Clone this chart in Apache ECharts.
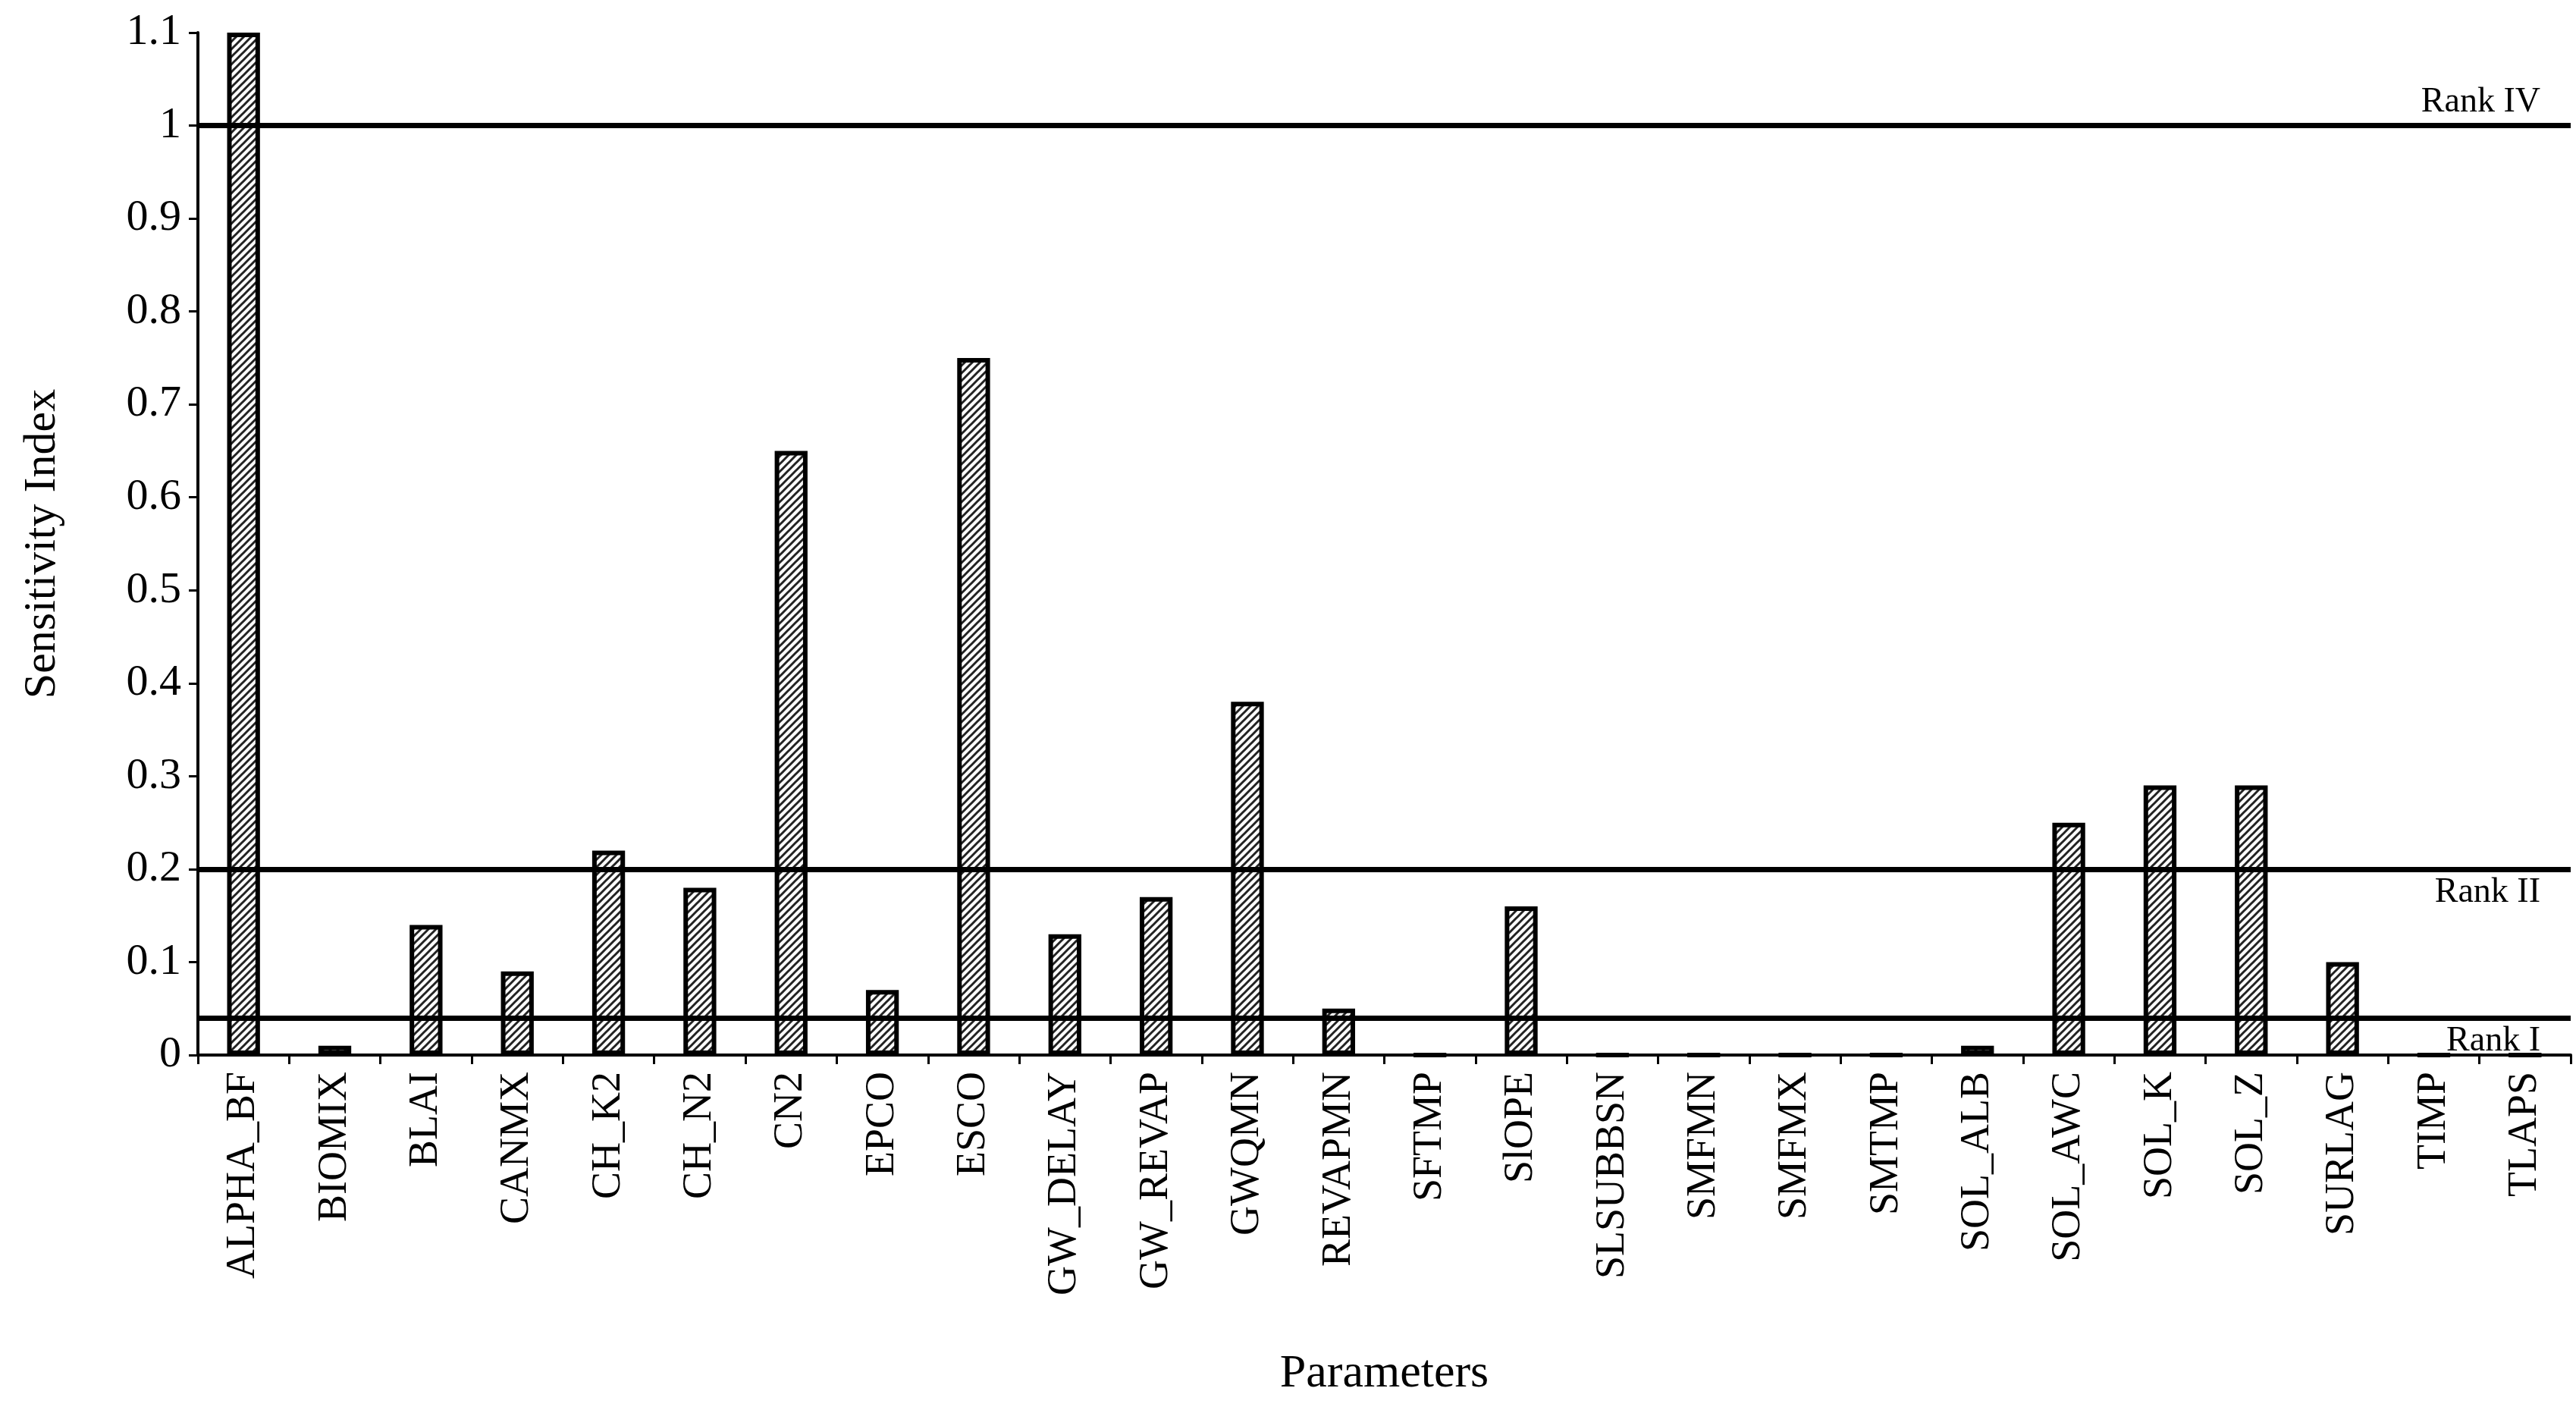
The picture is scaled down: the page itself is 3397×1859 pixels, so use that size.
<!DOCTYPE html>
<html>
<head>
<meta charset="utf-8">
<script src="https://cdn.jsdelivr.net/npm/echarts@6/dist/echarts.min.js"></script>
<style>html,body{margin:0;background:#fff}#main{width:3397px;height:1859px}</style>
</head>
<body>
<div id="main"></div>
<script>
var categories = ['ALPHA_BF', 'BIOMIX', 'BLAI', 'CANMX', 'CH_K2', 'CH_N2', 'CN2', 'EPCO', 'ESCO',
  'GW_DELAY', 'GW_REVAP', 'GWQMN', 'REVAPMN', 'SFTMP', 'SlOPE', 'SLSUBBSN', 'SMFMN', 'SMFMX',
  'SMTMP', 'SOL_ALB', 'SOL_AWC', 'SOL_K', 'SOL_Z', 'SURLAG', 'TIMP', 'TLAPS'];
var sensitivity = [1.1, 0.01, 0.14, 0.09, 0.22, 0.18, 0.65, 0.07, 0.75, 0.13, 0.17, 0.38, 0.05, 0,
  0.16, 0, 0, 0, 0, 0.01, 0.25, 0.29, 0.29, 0.1, 0, 0];
var rankLines = [1, 0.2, 0.04];
var rankNames = ['Rank IV', 'Rank II', 'Rank I'];

var font = 'Liberation Serif';

// diagonal hatch
var hatch = document.createElement('canvas');
hatch.width = 10; hatch.height = 10;
var ctx = hatch.getContext('2d');
ctx.fillStyle = '#fff';
ctx.fillRect(0, 0, 10, 10);
ctx.strokeStyle = '#222';
ctx.lineWidth = 3;
ctx.beginPath();
ctx.moveTo(-2, 12); ctx.lineTo(12, -2);
ctx.moveTo(-2, 2); ctx.lineTo(2, -2);
ctx.moveTo(8, 12); ctx.lineTo(12, 8);
ctx.stroke();

var myChart = echarts.init(document.getElementById('main'));

var lineData = rankLines.map(function (v, i) {
  return {
    yAxis: v,
    label: { formatter: rankNames[i], position: i === 0 ? 'insideEndTop' : 'insideEndBottom' }
  };
});
lineData.push({
  yAxis: 0.48,
  lineStyle: { opacity: 0 },
  label: { formatter: 'Rank III', position: 'insideEndTop' }
});

var option = {
  animation: false,
  grid: { left: 261, right: 7, top: 43, bottom: 468 },
  xAxis: {
    type: 'category',
    data: categories,
    name: 'Parameters',
    nameLocation: 'middle',
    nameGap: 390,
    nameTextStyle: { fontFamily: font, fontSize: 62, color: '#000' },
    axisLine: { lineStyle: { color: '#000', width: 4 } },
    axisTick: { show: true, alignWithLabel: false, length: 12, lineStyle: { color: '#000', width: 3 } },
    axisLabel: { rotate: 90, fontFamily: font, fontSize: 54, color: '#000', margin: 22 }
  },
  yAxis: {
    type: 'value',
    min: 0,
    max: 1.1,
    interval: 0.1,
    name: 'Sensitivity Index',
    nameLocation: 'middle',
    nameGap: 175,
    nameTextStyle: { fontFamily: font, fontSize: 60, color: '#000' },
    axisLine: { show: true, lineStyle: { color: '#000', width: 4 } },
    axisTick: { show: true, length: 12, lineStyle: { color: '#000', width: 3 } },
    splitLine: { show: false },
    axisLabel: {
      fontFamily: font, fontSize: 58, color: '#000', margin: 22,
      formatter: function (v) { return String(Math.round(v * 10) / 10); }
    }
  },
  series: [{
    type: 'bar',
    data: sensitivity,
    barWidth: '36%',
    itemStyle: { color: { image: hatch, repeat: 'repeat' }, borderColor: '#000', borderWidth: 6 },
    markLine: {
      symbol: 'none',
      silent: true,
      lineStyle: { color: '#000', width: 7, type: 'solid' },
      label: { fontFamily: font, fontSize: 46, color: '#000', distance: [40, 8] },
      data: lineData
    }
  }]
};

myChart.setOption(option);
</script>
</body>
</html>
